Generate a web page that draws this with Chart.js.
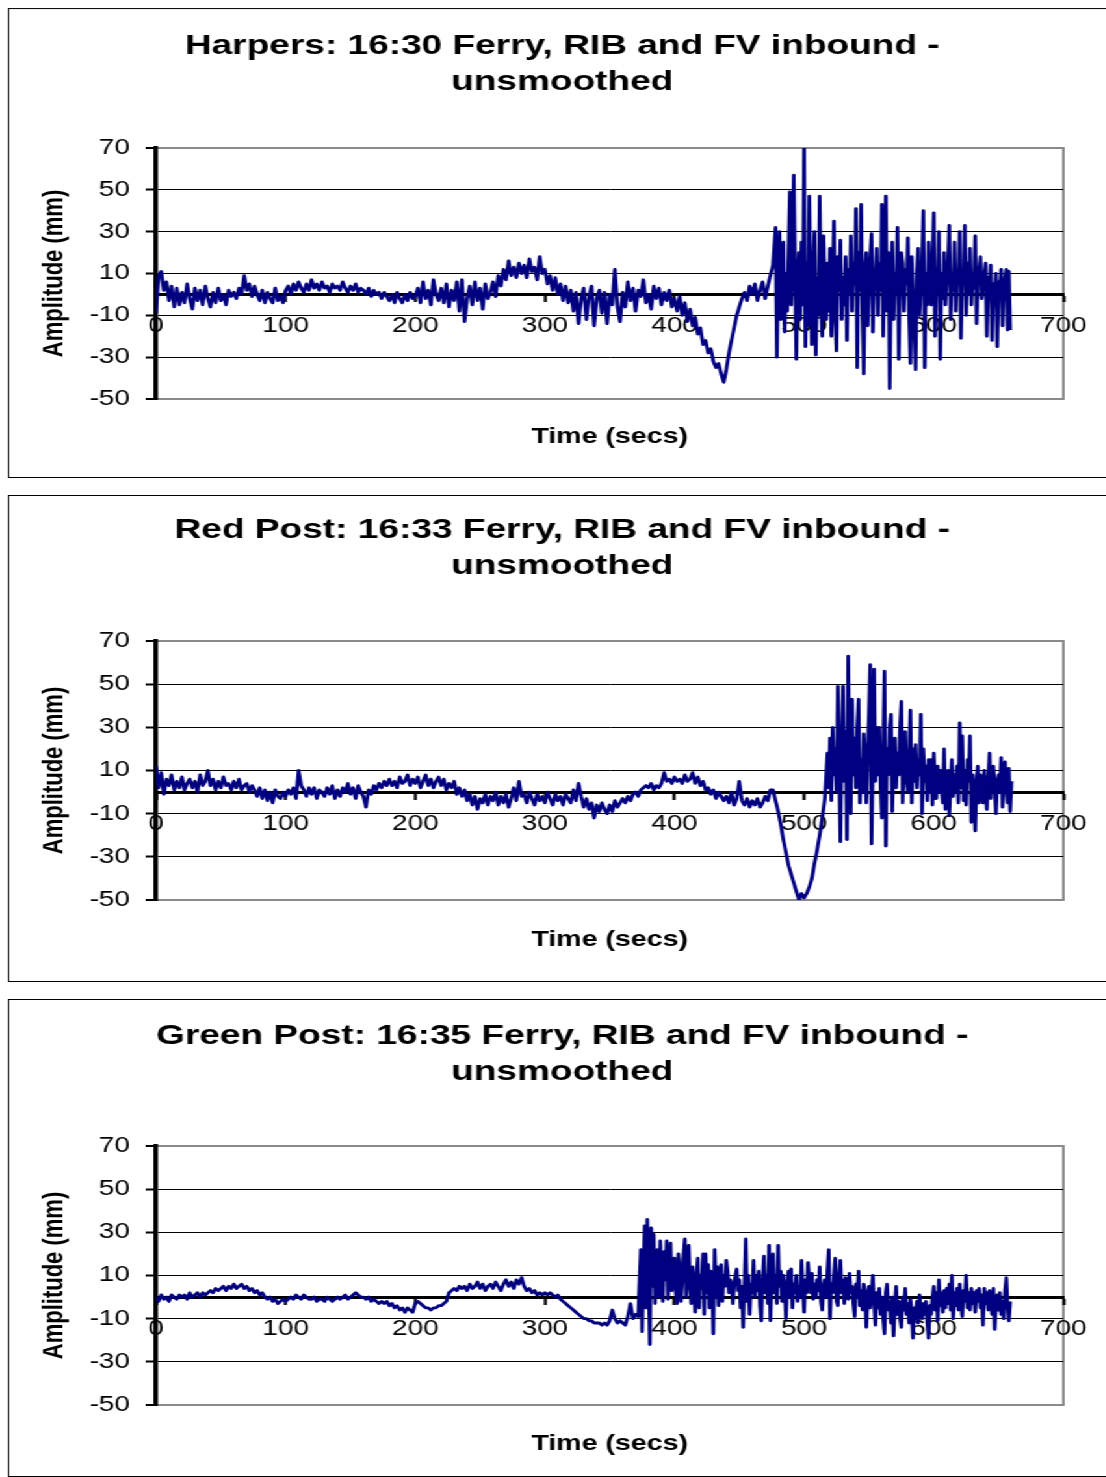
<!DOCTYPE html>
<html>
<head>
<meta charset="utf-8">
<title>Ferry, RIB and FV inbound - unsmoothed</title>
<script src="https://cdn.jsdelivr.net/npm/chart.js@4.4.1/dist/chart.umd.min.js"></script>
<style>
  html, body { margin: 0; padding: 0; background: #fff; overflow: hidden; }
  /* the sheet is laid out narrow and widened as a whole */
  #sheet { position: absolute; left: 0; top: 0; width: 860px; height: 1477px;
           transform: scaleX(1.3); transform-origin: 0 0; }
  .panel { position: absolute; left: 6px; width: 851px; border: 1px solid #000; background: #fff; }
  .panel canvas { display: block; }
</style>
</head>
<body>
<div id="sheet">
  <div class="panel" style="top:8px;height:468px"><canvas id="harpers" width="851" height="468"></canvas></div>
  <div class="panel" style="top:495px;height:485px"><canvas id="redPost" width="851" height="485"></canvas></div>
  <div class="panel" style="top:999px;height:476px"><canvas id="greenPost" width="851" height="476"></canvas></div>
</div>
<script>
// Each record: a calm stretch read every CALM_STEP_S seconds from t = 0,
// then the wash of the passing vessels read every BURST_STEP_S seconds.
const CALM_STEP_S = 2;
const BURST_STEP_S = 1;

const xTicks = [0, 100, 200, 300, 400, 500, 600, 700];
const yTicks = [-50, -30, -10, 10, 30, 50, 70];

const harpersTitle = ['Harpers: 16:30 Ferry, RIB and FV inbound -', 'unsmoothed'];
const redPostTitle = ['Red Post: 16:33 Ferry, RIB and FV inbound -', 'unsmoothed'];
const greenPostTitle = ['Green Post: 16:35 Ferry, RIB and FV inbound -', 'unsmoothed'];

// ---- Harpers ----
const harpersCalm = [
  -9, 9, 11, 2, 6, -3, 4, -6, 3, -5,
  1, -4, 5, -2, -7, 3, -3, 2, -5, 4,
  -2, -6, 1, -4, 3, -3, 0, -5, 2, -1,
  1, -2, 3, 0, 9, 2, 5, -1, 4, 0,
  -3, 2, -4, 1, -2, -4, 3, -3, -1, -4,
  2, 4, 0, 5, 2, 6, 3, 1, 5, 2,
  7, 3, 5, 2, 6, 3, 4, 1, 5, 3,
  4, 2, 6, 3, 1, 4, 2, 5, 1, 3,
  2, 0, 3, -1, 2, 0, 1, -2, 1, -1,
  -3, 0, -4, 1, -2, -4, 0, -3, 1, -2,
  -1, 3, -4, 6, -2, 2, -5, 7, 0, -3,
  3, -4, 5, -6, 2, -3, 6, -8, 7, -13,
  -2, 4, -5, 6, -3, 3, -7, 5, -2, 1,
  6, -1, 9, 4, 12, 7, 16, 9, 13, 8,
  15, 10, 14, 8, 17, 11, 13, 7, 18, 10,
  12, 5, 9, 2, 8, 0, 5, -3, 4, -4,
  2, -8, 1, -14, -2, 3, -12, -1, 4, -15,
  -2, 2, -9, 1, -14, 0, -5, 12, -6, -13,
  1, -6, 6, -3, 3, -8, 2, -1, 7, -4,
  0, -7, 4, -2, 3, -5, 1, -3, 2, -6,
  -2, -8, -1, -10, -4, -13, -7, -15, -11, -19,
  -16, -24, -22, -28, -26, -32, -35, -33, -38, -42,
  -36, -28, -22, -16, -10, -6, -2, 1, -3, 4,
  0, 5, -3, 2, 6, -2, 4, 9, 14
];
const harpersBurstStart = 478;
const harpersBurst = [
  32, -30, 12, 30, -12, 5, 25, -18, 10, -8,
  20, 49, -5, 15, 57, 10, -31, 8, 20, -12,
  25, -5, 70, -25, 15, -15, 47, 5, -24, 12,
  30, -29, 8, -10, 47, 0, -20, 28, 3, -12,
  15, -8, 22, -20, 10, 35, -12, -27, 18, 2,
  26, -12, 8, -5, 18, -22, 12, 0, 28, -8,
  15, 5, 41, -35, 20, 2, 43, -10, -38, 12,
  20, -15, 5, 18, 29, -18, 8, 10, 22, -10,
  15, 2, 43, -20, 10, 47, -8, 20, -45, 5,
  25, -12, 10, 0, 32, -31, 8, 20, 15, -8,
  12, 5, 27, -10, -33, 18, 2, -20, -36, 10,
  22, -10, 5, 15, 40, -35, 10, -5, 25, 2,
  -5, 18, 39, -20, 12, 5, 30, -31, 10, -2,
  20, -5, 8, 15, 33, -12, 10, 2, 25, -8,
  12, 5, 30, -21, 10, 8, 33, -10, 15, 0,
  22, -5, 10, 3, 28, -14, 8, 12, 18, -2,
  5, 10, 15, -20, 8, 2, 14, -22, 5, 0,
  10, -25, 6, 2, 12, -15, 4, 8, 12, -17,
  11, -17
];

// ---- Red Post ----
const redPostCalm = [
  12, 2, 9, -1, 6, 3, 8, 1, 5, 2,
  7, 1, 4, 6, 2, 5, 0, 8, 3, 5,
  10, 3, 6, 1, 5, 2, 7, 3, 4, 1,
  5, 2, 6, 1, 3, 4, 0, 3, 1, -2,
  2, -3, 1, -4, 0, -5, 1, -2, -3, 0,
  -2, 1, -1, 2, -3, 10, 3, 1, -2, 2,
  -1, 2, -3, 1, 0, -2, 2, -1, 3, -3,
  1, -2, 2, 0, 4, -1, 2, -3, 3, 0,
  -2, -7, 1, -1, 3, 1, 4, 2, 5, 3,
  6, 3, 5, 2, 7, 4, 5, 8, 3, 6,
  4, 7, 2, 5, 8, 3, 6, 2, 5, 7,
  3, 6, 1, 4, 2, 5, -1, 2, -2, 1,
  -4, -1, -6, -2, -8, -3, -5, -1, -6, -2,
  -4, 0, -6, -2, -5, -1, -7, -3, 2, -4,
  5, -2, -1, -5, 0, -3, -6, -1, -4, -2,
  -5, 0, -3, -6, -1, -4, -2, -6, -1, -3,
  -5, 1, -4, 4, -2, -7, -3, -8, -5, -12,
  -6, -9, -5, -8, -10, -6, -9, -4, -7, -5,
  -3, -5, -2, -4, -1, 0, -2, 1, 2, 3,
  2, 4, 1, 3, 2, 4, 9, 5, 6, 4,
  7, 5, 6, 4, 8, 5, 6, 9, 4, 7,
  3, 5, 1, 2, -1, 1, -3, 0, -2, -4,
  -2, -5, 0, -6, -3, 5, -4, -6, -3, -7,
  -4, -6, -3, -7, -5, -2, -4, 1, 1, -4,
  -9, -15, -22, -28, -34, -38, -42, -46, -50, -47,
  -49, -47, -44, -40, -33, -27, -20, -12, -3
];
const redPostBurstStart = 518;
const redPostBurst = [
  18, 2, 25, -4, 30, 8, 20, 0, 49, 12,
  -23, 22, 49, 5, 28, -22, 63, 10, -10, 43,
  8, 25, 2, 30, 43, -5, 15, 0, 27, 10,
  -5, 20, 35, 59, -24, 15, 57, 5, 30, 8,
  30, 2, -12, 18, 56, -25, 20, 8, 30, 36,
  -9, 15, 25, 2, 18, 8, 30, 42, -5, 20,
  28, 5, 0, 15, 38, -5, 20, 5, 22, 2,
  15, 8, 36, -10, 20, 5, 12, -4, 15, 0,
  15, -6, 18, 5, -3, 12, 0, 10, 2, -5,
  20, -8, 5, 10, -11, 3, 15, -2, 8, 0,
  12, -5, 32, 2, 26, -4, 10, -6, 15, 5,
  26, -14, 8, 0, -18, 5, 12, -5, 8, 2,
  -5, 10, 0, -8, 6, 18, -3, 8, 12, 2,
  -10, 5, 8, 0, 16, -7, 6, 14, 2, -5,
  11, -9, 5
];

// ---- Green Post ----
const greenPostCalm = [
  0, -2, 1, -1, 0, -2, 1, 0, -1, 1,
  0, 1, -1, 2, 0, 1, 2, 0, 2, 1,
  2, 3, 2, 4, 3, 4, 5, 3, 5, 4,
  6, 4, 5, 6, 4, 5, 3, 4, 2, 3,
  1, 2, 0, -1, 0, -2, -1, -3, -2, -1,
  -2, -1, 0, -1, 1, 0, -1, 1, 0, -1,
  -1, 0, -2, -1, -1, -2, 0, -1, -2, -1,
  0, -1, 0, 1, -1, 0, 1, 2, 1, 0,
  0, -1, 0, -2, -1, -2, -3, -2, -3, -2,
  -4, -3, -5, -4, -6, -5, -7, -5, -6, -7,
  -3, -2, -3, -4, -5, -5, -6, -5, -5, -4,
  -4, -3, -2, 2, 3, 4, 3, 5, 4, 5,
  3, 6, 4, 5, 7, 4, 6, 3, 5, 6,
  4, 7, 5, 3, 6, 8, 5, 7, 4, 8,
  6, 9, 5, 3, 4, 2, 3, 1, 2, 1,
  2, 1, 2, 1, 0, 1, -1, -2, -3, -4,
  -5, -6, -7, -8, -9, -10, -10, -11, -11, -12,
  -12, -12, -13, -12, -13, -11, -6, -10, -12, -11,
  -12, -13, -9, -3, -10, -8, -9
];
const greenPostBurstStart = 374;
const greenPostBurst = [
  22, -16, 10, 33, -5, 36, 8, -22, 32, 5,
  29, -3, 15, 22, 0, 26, 10, -2, 21, 8,
  26, -1, 12, 25, 3, 15, 18, 2, -3, 20,
  15, -2, 8, 20, 27, 0, 12, 24, 5, -3,
  14, 5, -7, 10, 18, -5, 10, 4, 20, -8,
  20, 2, 15, -5, 12, 8, -17, 22, 0, 14,
  -4, 8, 15, -2, 10, 5, 17, 12, 2, 8,
  6, -3, 6, 10, 13, 3, 8, -5, 5, -14,
  5, 27, -2, 10, -8, 6, 2, 17, 0, 10,
  3, 12, -4, -11, 8, 19, 2, 10, -3, 24,
  -11, 8, 20, 2, 10, -3, 24, 5, 12, -2,
  10, 3, -10, 6, 12, 0, 13, -5, 6, 2,
  10, -2, 5, 0, 17, 3, -7, 8, 2, 16,
  9, 2, 11, -1, 6, 0, 8, 3, 14, -2,
  -6, 5, 8, 0, 12, 22, -10, 6, 2, 10,
  18, -2, -4, 10, 17, 2, 8, -3, 9, 4,
  -1, 11, 2, 5, -3, -9, 6, 0, 12, -4,
  3, -6, 6, 2, -14, 0, 5, -5, 3, 10,
  -3, -13, 2, -5, 4, -8, 0, -10, -17, 2,
  6, -6, -2, -12, 0, -18, -4, 5, -8, -2,
  -10, -14, 0, -6, 4, -8, -3, -12, -1, -7,
  -19, -5, -10, -2, -12, 1, -6, -10, -3, -8,
  -2, -12, -19, -4, -8, 0, 5, -6, 2, -11,
  8, -4, 2, -7, 3, -5, 4, -3, 6, -6,
  10, -10, 2, -4, 4, -6, 6, -3, -9, 3,
  -2, 10, -5, 2, -6, 4, -3, 2, -7, 3,
  -2, 4, -5, 1, -13, 4, -3, 2, -6, 3,
  -2, -8, 4, -15, -3, 1, -6, 2, -8, -2,
  -10, 3, 9, -4, -11, -2
];

const FONT = '"Liberation Sans", Arial, "DejaVu Sans", sans-serif';
const LINE_COLOR = '#000080';
const FRAME_GREY = '#8a8a8a';

// Grey frame round the plot area (right edge shows; the axes cover the rest)
const plotFrame = {
  id: 'plotFrame',
  beforeDraw(chart) {
    const { ctx, chartArea: a } = chart;
    ctx.save();
    ctx.strokeStyle = FRAME_GREY;
    ctx.lineWidth = 2;
    ctx.strokeRect(a.left, a.top, a.right - a.left, a.bottom - a.top);
    ctx.restore();
  }
};

const yMin = yTicks[0];
const yMax = yTicks[yTicks.length - 1];
const isEdgeTick = c => c.tick && (c.tick.value === yMin || c.tick.value === yMax);

function toPoints(calm, burstStart, burst) {
  return calm.map((v, i) => ({ x: i * CALM_STEP_S, y: v }))
    .concat(burst.map((v, i) => ({ x: burstStart + i * BURST_STEP_S, y: v })));
}

function drawPanel(canvasId, titleLines, points, pad) {
  return new Chart(document.getElementById(canvasId), {
    type: 'line',
    data: {
      datasets: [{
        data: points,
        borderColor: LINE_COLOR,
        borderWidth: 2.8,
        borderJoinStyle: 'round',
        pointRadius: 0,
        tension: 0,
        fill: false
      }]
    },
    options: {
      responsive: false,
      animation: false,
      events: [],
      layout: { padding: 0 },
      plugins: {
        legend: { display: false },
        tooltip: { enabled: false },
        title: {
          display: true,
          text: titleLines,
          color: '#000',
          font: { family: FONT, size: 28.5, weight: 'bold', lineHeight: 36 / 28.5 },
          padding: { top: pad.titleTop, bottom: pad.titleBottom }
        },
        subtitle: {
          display: true,
          position: 'bottom',
          fullSize: false,
          text: 'Time (secs)',
          color: '#000',
          font: { family: FONT, size: 22, weight: 'bold', lineHeight: 1.2 },
          padding: { top: pad.xTitleTop, bottom: pad.xTitleBottom }
        }
      },
      scales: {
        x: {
          type: 'linear',
          min: xTicks[0],
          max: xTicks[xTicks.length - 1],
          position: { y: 0 },
          afterBuildTicks: s => { s.ticks = xTicks.map(v => ({ value: v })); },
          ticks: {
            color: '#000',
            font: { family: FONT, size: 21.5 },
            padding: 13,
            autoSkip: false,
            maxRotation: 0,
            callback: v => String(v)
          },
          grid: { drawOnChartArea: false, drawTicks: true, tickLength: 6, tickColor: '#000', tickWidth: 2.3 },
          border: { display: true, color: '#000', width: 3 }
        },
        y: {
          type: 'linear',
          position: 'left',
          min: yMin,
          max: yMax,
          afterBuildTicks: s => { s.ticks = yTicks.map(v => ({ value: v })); },
          afterFit: s => { s.width = 113; },
          ticks: {
            color: '#000',
            font: { family: FONT, size: 21.5 },
            padding: 12,
            autoSkip: false,
            callback: v => String(v)
          },
          grid: {
            color: c => isEdgeTick(c) ? FRAME_GREY : '#000',
            lineWidth: c => isEdgeTick(c) ? 2 : 1,
            drawTicks: true,
            tickLength: 8,
            tickColor: '#000',
            tickWidth: 2
          },
          border: { display: true, color: '#000', width: 3.5 },
          title: {
            display: true,
            text: 'Amplitude (mm)',
            color: '#000',
            font: { family: FONT, size: 22, weight: 'bold', lineHeight: 1.2 },
            padding: { top: 22, bottom: 0 }
          }
        },
        // empty strip on the right of the plot area
        yRight: {
          type: 'linear',
          position: 'right',
          display: true,
          afterFit: s => { s.width = 40; },
          ticks: { display: false },
          grid: { display: false },
          border: { display: false }
        }
      }
    },
    plugins: [plotFrame]
  });
}

drawPanel('harpers', harpersTitle,
  toPoints(harpersCalm, harpersBurstStart, harpersBurst),
  { titleTop: 19, titleBottom: 48, xTitleTop: 24.8, xTitleBottom: 26.8 });
drawPanel('redPost', redPostTitle,
  toPoints(redPostCalm, redPostBurstStart, redPostBurst),
  { titleTop: 16, titleBottom: 57, xTitleTop: 26.8, xTitleBottom: 27.8 });
drawPanel('greenPost', greenPostTitle,
  toPoints(greenPostCalm, greenPostBurstStart, greenPostBurst),
  { titleTop: 18, titleBottom: 56, xTitleTop: 25.8, xTitleBottom: 18.8 });
</script>
</body>
</html>
